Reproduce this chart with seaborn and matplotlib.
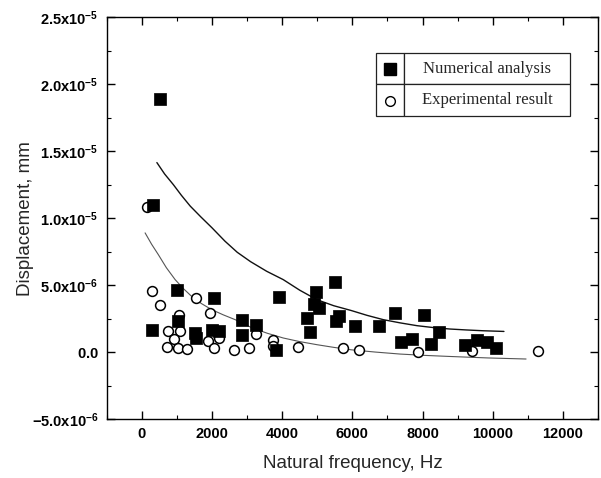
import matplotlib
matplotlib.use("Agg")
import matplotlib.pyplot as plt
import numpy as np
import pandas as pd
import seaborn as sns
from matplotlib.ticker import MultipleLocator, FixedLocator, FixedFormatter

# ---------------- data ----------------
num_freq = [521, 330, 997, 285, 1043, 1519, 1547, 2060, 1994, 2211, 2866, 2849,
            3256, 3818, 3920, 4966, 4917, 5051, 4701, 4795, 5507, 5630, 5536,
            6077, 6769, 7225, 7387, 7692, 8043, 8242, 8470, 9202, 9544, 9829, 10085]
num_disp = [1.89e-5, 1.10e-5, 4.66e-6, 1.67e-6, 2.29e-6, 1.42e-6, 1.05e-6, 4.04e-6,
            1.67e-6, 1.54e-6, 2.37e-6, 1.24e-6, 2.04e-6, 0.17e-6, 4.12e-6, 4.46e-6,
            3.62e-6, 3.29e-6, 2.54e-6, 1.47e-6, 5.21e-6, 2.72e-6, 2.29e-6, 1.92e-6,
            1.92e-6, 2.92e-6, 0.77e-6, 1.00e-6, 2.79e-6, 0.60e-6, 1.50e-6, 0.55e-6,
            0.92e-6, 0.72e-6, 0.30e-6]

exp_freq = [142, 302, 521, 1063, 741, 1091, 929, 712, 1034, 1276, 1547, 1946,
            1897, 2202, 2060, 2638, 3057, 3248, 3749, 3749, 4444, 5744, 6199,
            7863, 9419, 11299]
exp_disp = [1.08e-5, 4.59e-6, 3.54e-6, 2.79e-6, 1.60e-6, 1.60e-6, 1.00e-6, 0.40e-6,
            0.32e-6, 0.25e-6, 4.04e-6, 2.92e-6, 0.85e-6, 1.07e-6, 0.32e-6, 0.17e-6,
            0.30e-6, 1.37e-6, 0.92e-6, 0.42e-6, 0.37e-6, 0.30e-6, 0.17e-6, 0.04e-6,
            0.10e-6, 0.10e-6]

num_fit_freq = [430, 650, 900, 1130, 1380, 1680, 2000, 2370, 2720, 3100, 3560,
                4030, 4500, 4990, 5470, 5970, 6420, 6880, 7360, 7840, 8300, 8780,
                9250, 9730, 10320]
num_fit_disp = [1.415e-5, 1.33e-5, 1.25e-5, 1.17e-5, 1.09e-5, 1.01e-5, 9.28e-6,
                8.28e-6, 7.45e-6, 6.75e-6, 6.03e-6, 5.41e-6, 4.62e-6, 3.91e-6,
                3.46e-6, 3.10e-6, 2.74e-6, 2.42e-6, 2.18e-6, 1.97e-6, 1.83e-6,
                1.72e-6, 1.65e-6, 1.59e-6, 1.54e-6]

exp_fit_freq = [94, 280, 470, 700, 950, 1180, 1420, 1700, 1990, 2320, 2660, 3150,
                3580, 4030, 4500, 4990, 5470, 5960, 6650, 7360, 8070, 8780, 9860,
                10950]
exp_fit_disp = [8.9e-6, 8.05e-6, 7.28e-6, 6.30e-6, 5.41e-6, 4.75e-6, 4.16e-6,
                3.62e-6, 3.17e-6, 2.78e-6, 2.42e-6, 1.80e-6, 1.40e-6, 1.05e-6,
                0.78e-6, 0.55e-6, 0.35e-6, 0.17e-6, 0.00e-6, -0.15e-6, -0.25e-6,
                -0.33e-6, -0.44e-6, -0.52e-6]

x_ticks = [0, 2000, 4000, 6000, 8000, 10000, 12000]
x_tick_labels = ["0", "2000", "4000", "6000", "8000", "10000", "12000"]
y_ticks = [-5e-6, 0.0, 5e-6, 1.0e-5, 1.5e-5, 2.0e-5, 2.5e-5]
y_tick_labels = [r"$\mathbf{-5.0x10^{-6}}$", r"$\mathbf{0.0}$",
                 r"$\mathbf{5.0x10^{-6}}$", r"$\mathbf{1.0x10^{-5}}$",
                 r"$\mathbf{1.5x10^{-5}}$", r"$\mathbf{2.0x10^{-5}}$",
                 r"$\mathbf{2.5x10^{-5}}$"]

legend_labels = ["Numerical analysis", "Experimental result"]

# ---------------- style ----------------
sns.set_theme(style="ticks")
plt.rcParams["font.family"] = ["Liberation Sans", "DejaVu Sans"]
plt.rcParams["mathtext.fontset"] = "custom"
plt.rcParams["mathtext.rm"] = "Liberation Sans"
plt.rcParams["mathtext.bf"] = "Liberation Sans:bold"
plt.rcParams["axes.unicode_minus"] = False

W, H = 601, 478
fig = plt.figure(figsize=(W / 100, H / 100), dpi=100)
L, R, T, B = 106.7, 598, 17.3, 419
ax = fig.add_axes([L / W, 1 - B / H, (R - L) / W, (B - T) / H])

num_df = pd.DataFrame({"freq": num_freq, "disp": num_disp})
exp_df = pd.DataFrame({"freq": exp_freq, "disp": exp_disp})
nfit = pd.DataFrame({"freq": num_fit_freq, "disp": num_fit_disp})
efit = pd.DataFrame({"freq": exp_fit_freq, "disp": exp_fit_disp})

sns.lineplot(data=nfit, x="freq", y="disp", ax=ax, color="#111111", lw=1.0,
             sort=False, estimator=None, zorder=2)
sns.lineplot(data=efit, x="freq", y="disp", ax=ax, color="#555555", lw=0.8,
             sort=False, estimator=None, zorder=2)
sns.scatterplot(data=exp_df, x="freq", y="disp", ax=ax, marker="o", s=50,
                facecolor="white", edgecolor="black", linewidth=1.1, zorder=3)
sns.scatterplot(data=num_df, x="freq", y="disp", ax=ax, marker="s", s=72,
                color="black", edgecolor="black", linewidth=0.5, zorder=4)

ax.set_xlim(-1000, 13000)
ax.set_ylim(-5e-6, 2.5e-5)
ax.xaxis.set_major_locator(FixedLocator(x_ticks))
ax.xaxis.set_major_formatter(FixedFormatter(x_tick_labels))
ax.xaxis.set_minor_locator(MultipleLocator(1000))
ax.yaxis.set_major_locator(FixedLocator(y_ticks))
ax.yaxis.set_major_formatter(FixedFormatter(y_tick_labels))
ax.yaxis.set_minor_locator(MultipleLocator(2.5e-6))
ax.tick_params(which="both", direction="in", top=True, right=True, colors="black")
ax.tick_params(which="major", length=6, width=1.0, labelsize=10.5, pad=6)
ax.tick_params(which="minor", length=3, width=0.8)
for lab in ax.get_xticklabels():
    lab.set_fontweight("bold")
for sp in ax.spines.values():
    sp.set_visible(True)
    sp.set_linewidth(1.0)
    sp.set_color("black")

ax.set_xlabel("Natural frequency, Hz", fontsize=13.5, labelpad=10)
ax.set_ylabel("Displacement, mm", fontsize=13.5, labelpad=-2)

# ---------------- boxed legend ----------------
def ax_xy(px, py):
    return (px - L) / (R - L), (B - py) / (B - T)

lx0, ly0 = ax_xy(376, 116)
lx1, ly1 = ax_xy(570, 52.7)
cx, _ = ax_xy(404, 0)
_, ry = ax_xy(0, 85)
tab = ax.table(cellText=[["", legend_labels[0]], ["", legend_labels[1]]],
               colWidths=[cx - lx0, lx1 - cx], cellLoc="center",
               bbox=[lx0, ly0, lx1 - lx0, ly1 - ly0], zorder=5)
tab.auto_set_font_size(False)
for (r, c), cell in tab.get_celld().items():
    cell.set_edgecolor("#222222")
    cell.set_linewidth(0.9)
    cell.set_facecolor("white")
    cell.get_text().set_fontfamily("Liberation Serif")
    cell.get_text().set_fontsize(12)
mx = (lx0 + cx) / 2
ax.plot([mx], [(ry + ly1) / 2], marker="s", ms=8, color="black",
        transform=ax.transAxes, clip_on=False, zorder=6)
ax.plot([mx], [(ly0 + ry) / 2], marker="o", ms=7, mfc="white", mec="black",
        mew=1.0, transform=ax.transAxes, clip_on=False, zorder=6)

fig.savefig("out.png", dpi=100)
